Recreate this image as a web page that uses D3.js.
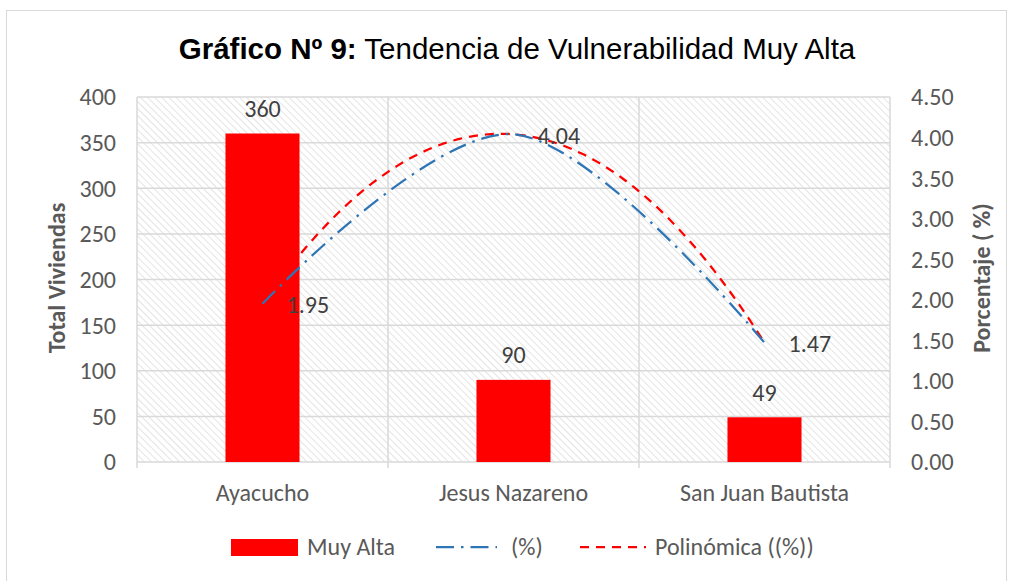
<!DOCTYPE html>
<html>
<head>
<meta charset="utf-8">
<script src="https://cdn.jsdelivr.net/npm/d3@7"></script>
<style>
  body { margin: 0; background: #fff; }
  text { font-family: Carlito, Calibri, Lato, sans-serif; fill: #595959; }
</style>
</head>
<body>
<script>
// data
var categories = ["Ayacucho", "Jesus Nazareno", "San Juan Bautista"]
var viviendas = [360, 90, 49]
var porcentaje = [1.95, 4.04, 1.47]
var leftTicks = [0, 50, 100, 150, 200, 250, 300, 350, 400]
var rightTicks = [0, 0.5, 1, 1.5, 2, 2.5, 3, 3.5, 4, 4.5]

var width = 1013,
    height = 581

var plot = { left: 137, right: 890, top: 97, bottom: 462 }
var fs = "24px"

var svg = d3.select("body")
  .append("svg")
  .attr("width", width)
  .attr("height", height)

// outer chart border
svg.append("rect")
  .attr("x", 6.5)
  .attr("y", 10.5)
  .attr("width", 1000)
  .attr("height", 575)
  .attr("fill", "#fff")
  .attr("stroke", "#d9d9d9")

// hatch pattern for plot area (downward diagonal)
var pattern = svg.append("defs").append("pattern")
  .attr("id", "hatch")
  .attr("patternUnits", "userSpaceOnUse")
  .attr("width", 5)
  .attr("height", 5)
  .attr("patternTransform", "rotate(-45)")
pattern.append("rect").attr("width", 5).attr("height", 5).attr("fill", "#fff")
pattern.append("line")
  .attr("x1", 0).attr("y1", 0).attr("x2", 0).attr("y2", 5)
  .attr("stroke", "#dedede")
  .attr("stroke-width", 1.6)

var x = d3.scaleBand().domain(categories).range([plot.left, plot.right]).padding(0)
var xIndex = d3.scaleLinear().domain([1, 3])
  .range([x(categories[0]) + x.bandwidth() / 2, x(categories[2]) + x.bandwidth() / 2])
var yLeft = d3.scaleLinear().domain([0, 400]).range([plot.bottom, plot.top])
var yRight = d3.scaleLinear().domain([0, 4.5]).range([plot.bottom, plot.top])

svg.append("rect")
  .attr("x", plot.left)
  .attr("y", plot.top)
  .attr("width", plot.right - plot.left)
  .attr("height", plot.bottom - plot.top)
  .attr("fill", "url(#hatch)")

// gridlines
svg.selectAll(".hgrid")
  .data(leftTicks)
  .enter().append("line")
  .attr("x1", plot.left)
  .attr("x2", plot.right)
  .attr("y1", function(d) { return yLeft(d) })
  .attr("y2", function(d) { return yLeft(d) })
  .attr("stroke", "#d9d9d9")
  .attr("stroke-width", 1.5)

var bounds = categories.map(function(d) { return x(d) }).concat([plot.right])
svg.selectAll(".vgrid")
  .data(bounds)
  .enter().append("line")
  .attr("x1", function(d) { return d })
  .attr("x2", function(d) { return d })
  .attr("y1", plot.top)
  .attr("y2", plot.bottom + 6)
  .attr("stroke", "#d9d9d9")
  .attr("stroke-width", 1.5)

// axis tick labels
svg.selectAll(".ltick")
  .data(leftTicks)
  .enter().append("text")
  .attr("x", 116)
  .attr("y", function(d) { return yLeft(d) })
  .attr("dy", "0.35em")
  .attr("text-anchor", "end")
  .style("font-size", fs)
  .text(function(d) { return d })

svg.selectAll(".rtick")
  .data(rightTicks)
  .enter().append("text")
  .attr("x", 911)
  .attr("y", function(d) { return yRight(d) })
  .attr("dy", "0.35em")
  .style("font-size", fs)
  .text(function(d) { return d3.format(".2f")(d) })

svg.selectAll(".xtick")
  .data(categories)
  .enter().append("text")
  .attr("x", function(d) { return x(d) + x.bandwidth() / 2 })
  .attr("y", 493)
  .attr("dy", "0.35em")
  .attr("text-anchor", "middle")
  .style("font-size", fs)
  .text(function(d) { return d })

// axis titles
svg.append("text")
  .attr("transform", "translate(57 278) rotate(-90)")
  .attr("dy", "0.35em")
  .attr("text-anchor", "middle")
  .style("font-size", "24px")
  .style("font-weight", "bold")
  .text("Total Viviendas")

svg.append("text")
  .attr("transform", "translate(982 278) rotate(-90)")
  .attr("dy", "0.35em")
  .attr("text-anchor", "middle")
  .style("font-size", "24px")
  .style("font-weight", "bold")
  .text("Porcentaje ( %)")

// title
var title = svg.append("text")
  .attr("x", 517)
  .attr("y", 59)
  .attr("text-anchor", "middle")
  .style("font-family", "'Liberation Sans', Arial, sans-serif")
  .style("font-size", "29.5px")
  .style("fill", "#000")
title.append("tspan").style("font-weight", "bold").text("Gráfico Nº 9:")
title.append("tspan").text(" Tendencia de Vulnerabilidad Muy Alta")

// polynomial (order 2) trendline, least squares on the % series
function polyFit(xs, ys) {
  var n = xs.length, S = [0, 0, 0, 0, 0], T = [0, 0, 0]
  for (var i = 0; i < n; i++) {
    for (var k = 0; k < 5; k++) S[k] += Math.pow(xs[i], k)
    for (var k = 0; k < 3; k++) T[k] += ys[i] * Math.pow(xs[i], k)
  }
  var A = [[S[0], S[1], S[2], T[0]], [S[1], S[2], S[3], T[1]], [S[2], S[3], S[4], T[2]]]
  for (var c = 0; c < 3; c++) {
    for (var r = c + 1; r < 3; r++) {
      var f = A[r][c] / A[c][c]
      for (var j = c; j < 4; j++) A[r][j] -= f * A[c][j]
    }
  }
  var coef = [0, 0, 0]
  for (var r = 2; r >= 0; r--) {
    var s = A[r][3]
    for (var j = r + 1; j < 3; j++) s -= A[r][j] * coef[j]
    coef[r] = s / A[r][r]
  }
  return coef
}
var idx = porcentaje.map(function(d, i) { return i + 1 })
var coef = polyFit(idx, porcentaje)
var trend = d3.range(1, 3.001, 0.02).map(function(t) {
  return [t, coef[0] + coef[1] * t + coef[2] * t * t]
})

svg.append("path")
  .datum(trend)
  .attr("d", d3.line()
    .x(function(d) { return xIndex(d[0]) })
    .y(function(d) { return yRight(d[1]) }))
  .attr("fill", "none")
  .attr("stroke", "#ff0000")
  .attr("stroke-width", 2.25)
  .attr("stroke-dasharray", "9,7")

// bars
var barW = x.bandwidth() * 0.295
svg.selectAll(".bar")
  .data(viviendas)
  .enter().append("rect")
  .attr("x", function(d, i) { return x(categories[i]) + (x.bandwidth() - barW) / 2 })
  .attr("y", function(d) { return yLeft(d) })
  .attr("width", barW)
  .attr("height", function(d) { return plot.bottom - yLeft(d) })
  .attr("fill", "#ff0000")

svg.selectAll(".barlabel")
  .data(viviendas)
  .enter().append("text")
  .attr("x", function(d, i) { return x(categories[i]) + x.bandwidth() / 2 })
  .attr("y", function(d) { return yLeft(d) - 25 })
  .attr("dy", "0.35em")
  .attr("text-anchor", "middle")
  .style("font-size", fs)
  .style("fill", "#404040")
  .text(function(d) { return d })

// smoothed % line
svg.append("path")
  .datum(porcentaje)
  .attr("d", d3.line()
    .x(function(d, i) { return xIndex(i + 1) })
    .y(function(d) { return yRight(d) })
    .curve(d3.curveCardinal.tension(0)))
  .attr("fill", "none")
  .attr("stroke", "#2e75b6")
  .attr("stroke-width", 2.25)
  .attr("stroke-dasharray", "18,7,2.5,7")

svg.selectAll(".linelabel")
  .data(porcentaje)
  .enter().append("text")
  .attr("x", function(d, i) { return xIndex(i + 1) + 24 })
  .attr("y", function(d) { return yRight(d) + 1 })
  .attr("dy", "0.35em")
  .style("font-size", fs)
  .style("fill", "#404040")
  .text(function(d) { return d3.format(".2f")(d) })

// legend
var legend = svg.append("g")
legend.append("rect")
  .attr("x", 231).attr("y", 539).attr("width", 67).attr("height", 17)
  .attr("fill", "#ff0000")
legend.append("text")
  .attr("x", 307).attr("y", 547).attr("dy", "0.35em")
  .style("font-size", fs)
  .text("Muy Alta")
legend.append("line")
  .attr("x1", 436).attr("x2", 497).attr("y1", 547).attr("y2", 547)
  .attr("stroke", "#2e75b6").attr("stroke-width", 2.25)
  .attr("stroke-dasharray", "18,7,2.5,7")
legend.append("text")
  .attr("x", 511).attr("y", 547).attr("dy", "0.35em")
  .style("font-size", fs)
  .text("(%)")
legend.append("line")
  .attr("x1", 580).attr("x2", 646).attr("y1", 547).attr("y2", 547)
  .attr("stroke", "#ff0000").attr("stroke-width", 2.25)
  .attr("stroke-dasharray", "9,7")
legend.append("text")
  .attr("x", 655).attr("y", 547).attr("dy", "0.35em")
  .style("font-size", fs)
  .text("Polinómica ((%))")
</script>
</body>
</html>
